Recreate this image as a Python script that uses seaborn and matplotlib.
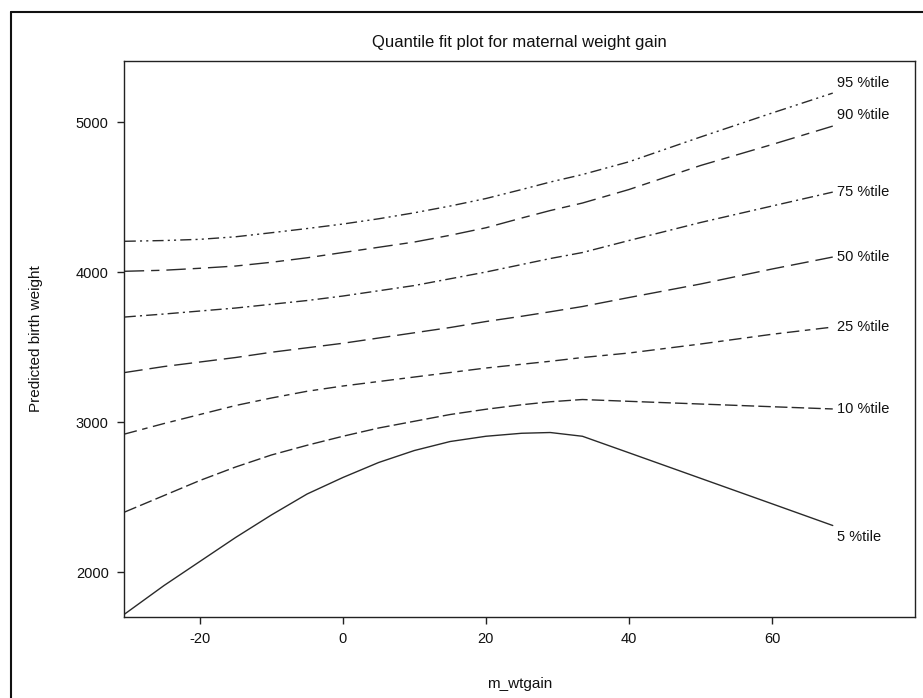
import matplotlib
matplotlib.use("Agg")
import matplotlib.pyplot as plt
from matplotlib.lines import Line2D
import seaborn as sns
import pandas as pd

sns.set_theme(style="white")
plt.rcParams['font.family'] = ['Liberation Sans', 'DejaVu Sans']
plt.rcParams['axes.unicode_minus'] = False

# ---- data ----
m_wtgain = [-30.5, -25, -20, -15, -10, -5, 0, 5, 10, 15, 20, 25, 29, 33.5, 40, 50, 60, 68.5]
q05 = [1720, 1910, 2070, 2230, 2380, 2520, 2630, 2730, 2810, 2870, 2905, 2925, 2930, 2905, 2795, 2625, 2455, 2310]
q10 = [2400, 2510, 2610, 2700, 2780, 2845, 2905, 2960, 3005, 3050, 3085, 3115, 3135, 3150, 3138, 3120, 3102, 3087]
q25 = [2920, 2990, 3050, 3110, 3160, 3205, 3240, 3270, 3300, 3330, 3360, 3385, 3405, 3430, 3460, 3520, 3585, 3633]
q50 = [3330, 3370, 3400, 3430, 3465, 3495, 3525, 3560, 3595, 3630, 3670, 3705, 3735, 3770, 3830, 3920, 4020, 4100]
q75 = [3700, 3720, 3740, 3760, 3785, 3810, 3840, 3875, 3910, 3955, 4000, 4050, 4090, 4130, 4210, 4330, 4440, 4533]
q90 = [4005, 4012, 4025, 4040, 4065, 4095, 4130, 4165, 4200, 4245, 4295, 4360, 4410, 4460, 4550, 4710, 4850, 4973]
q95 = [4205, 4210, 4218, 4235, 4262, 4290, 4320, 4355, 4395, 4440, 4490, 4550, 4600, 4650, 4735, 4900, 5060, 5193]
quantile_labels = ["5 %tile", "10 %tile", "25 %tile", "50 %tile", "75 %tile", "90 %tile", "95 %tile"]
x_ticks = [-20, 0, 20, 40, 60]
y_ticks = [2000, 3000, 4000, 5000]

series = [q05, q10, q25, q50, q75, q90, q95]
rows = []
for lab, vals in zip(quantile_labels, series):
    for xv, yv in zip(m_wtgain, vals):
        rows.append({"m_wtgain": xv, "pred": yv, "q": lab})
df = pd.DataFrame(rows)

dashes = {
    "5 %tile": "",
    "10 %tile": (9, 3),
    "25 %tile": (9, 4, 4, 4),
    "50 %tile": (13, 5),
    "75 %tile": (8, 3, 1.5, 3),
    "90 %tile": (14, 5, 6, 5),
    "95 %tile": (8, 3, 1.5, 3, 1.5, 3),
}
palette = {lab: "#2a2a2a" for lab in quantile_labels}

fig = plt.figure(figsize=(9.23, 6.98), dpi=100)
ax = fig.add_axes([124 / 923, 1 - 617 / 698, (915 - 124) / 923, (617 - 61) / 698])

sns.lineplot(data=df, x="m_wtgain", y="pred", hue="q", style="q",
             palette=palette, dashes=dashes, estimator=None, sort=True,
             legend=False, linewidth=1.0, ax=ax)

# end labels
offsets = {"95 %tile": 10, "90 %tile": 11, "5 %tile": -11}
for lab, vals in zip(quantile_labels, series):
    ax.annotate(lab, xy=(m_wtgain[-1], vals[-1]), xytext=(4, offsets.get(lab, 0)),
                textcoords="offset pixels", ha="left", va="center",
                fontsize=10.5, color="#111111")

ax.set_xlim(-30.6, 80.0)
ax.set_ylim(1700, 5407)
ax.set_xticks(x_ticks)
ax.set_yticks(y_ticks)
ax.tick_params(axis="both", direction="out", length=5, width=1, color="#222222",
               labelsize=10.5, labelcolor="#111111", bottom=True, left=True, pad=6)
for s in ax.spines.values():
    s.set_color("#222222")
    s.set_linewidth(1.0)

ax.set_xlabel("m_wtgain", fontsize=11, color="#111111", labelpad=22)
ax.set_ylabel("Predicted birth weight", fontsize=11, color="#111111", labelpad=24)
ax.set_title("Quantile fit plot for maternal weight gain", fontsize=12,
             color="#111111", pad=10)

# outer border (left and top visible)
fig.add_artist(Line2D([11 / 923, 11 / 923], [-0.01, 1 - 12 / 698], color="#111111",
                      lw=1.5, transform=fig.transFigure))
fig.add_artist(Line2D([11 / 923, 1.01], [1 - 12 / 698, 1 - 12 / 698], color="#111111",
                      lw=1.5, transform=fig.transFigure))

fig.savefig("out.png", dpi=100)
